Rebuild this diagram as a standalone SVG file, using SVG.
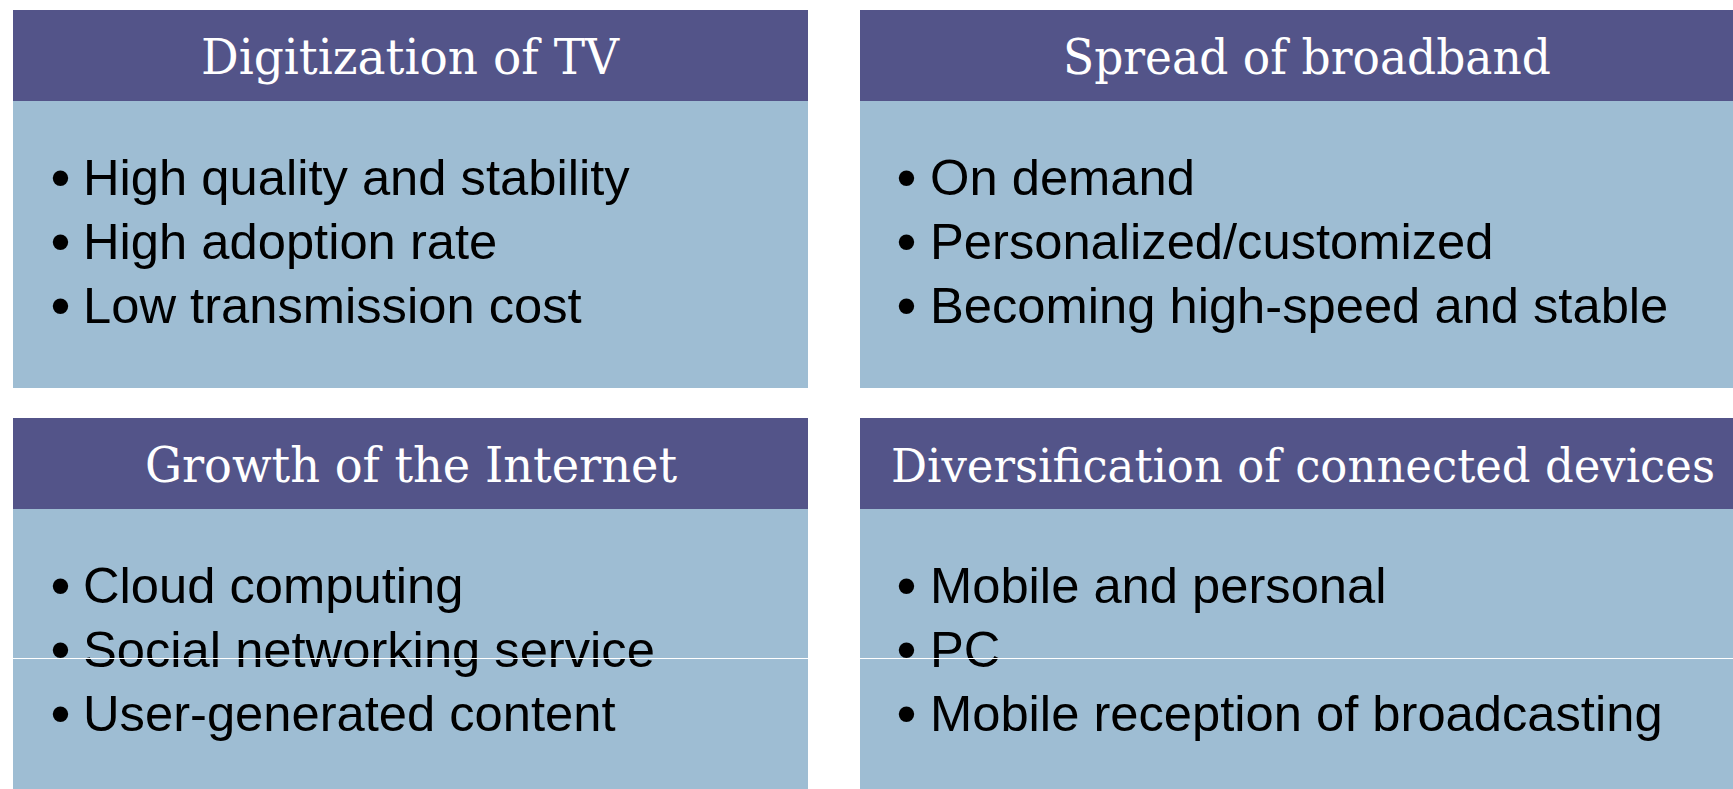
<svg xmlns="http://www.w3.org/2000/svg" width="1733" height="789" viewBox="0 0 1733 789">
<style>
.hdr{fill:#535489}
.body{fill:#9EBDD3}
.ht{font-family:"DejaVu Serif","Liberation Serif",serif;font-size:48px;fill:#ffffff;text-anchor:middle}
.bt{font-family:"Liberation Sans",Arial,sans-serif;font-size:50.7px;fill:#000000}
.bu{font-size:57px}
</style>
<rect width="1733" height="789" fill="#ffffff"/>
<g id="node-digitization">
<rect class="hdr" x="13" y="10" width="795" height="91"/>
<rect class="body" x="13" y="101" width="795" height="287"/>
<text class="ht" x="410" y="74" textLength="418" lengthAdjust="spacingAndGlyphs">Digitization of TV</text>
<text class="bt" x="50.5" y="195"><tspan class="bu" dy="2">•</tspan><tspan x="83" dy="-2">High quality and stability</tspan></text>
<text class="bt" x="50.5" y="259"><tspan class="bu" dy="2">•</tspan><tspan x="83" dy="-2">High adoption rate</tspan></text>
<text class="bt" x="50.5" y="323"><tspan class="bu" dy="2">•</tspan><tspan x="83" dy="-2">Low transmission cost</tspan></text>
</g>
<g id="node-broadband">
<rect class="hdr" x="860" y="10" width="873" height="91"/>
<rect class="body" x="860" y="101" width="873" height="287"/>
<text class="ht" x="1307" y="74" textLength="488" lengthAdjust="spacingAndGlyphs">Spread of broadband</text>
<text class="bt" x="896.5" y="195"><tspan class="bu" dy="2">•</tspan><tspan x="930" dy="-2">On demand</tspan></text>
<text class="bt" x="896.5" y="259"><tspan class="bu" dy="2">•</tspan><tspan x="930" dy="-2">Personalized/customized</tspan></text>
<text class="bt" x="896.5" y="323"><tspan class="bu" dy="2">•</tspan><tspan x="930" dy="-2">Becoming high-speed and stable</tspan></text>
</g>
<g id="node-internet">
<rect class="hdr" x="13" y="418" width="795" height="91"/>
<rect class="body" x="13" y="509" width="795" height="280"/>
<text class="ht" x="411" y="482" textLength="532" lengthAdjust="spacingAndGlyphs">Growth of the Internet</text>
<text class="bt" x="50.5" y="603"><tspan class="bu" dy="2">•</tspan><tspan x="83" dy="-2">Cloud computing</tspan></text>
<text class="bt" x="50.5" y="667"><tspan class="bu" dy="2">•</tspan><tspan x="83" dy="-2">Social networking service</tspan></text>
<text class="bt" x="50.5" y="731"><tspan class="bu" dy="2">•</tspan><tspan x="83" dy="-2">User-generated content</tspan></text>
</g>
<g id="node-devices">
<rect class="hdr" x="860" y="418" width="873" height="91"/>
<rect class="body" x="860" y="509" width="873" height="280"/>
<text class="ht" x="1303" y="482" style="font-size:46px" textLength="824" lengthAdjust="spacingAndGlyphs">Diversification of connected devices</text>
<text class="bt" x="896.5" y="603"><tspan class="bu" dy="2">•</tspan><tspan x="930" dy="-2">Mobile and personal</tspan></text>
<text class="bt" x="896.5" y="667"><tspan class="bu" dy="2">•</tspan><tspan x="930" dy="-2">PC</tspan></text>
<text class="bt" x="896.5" y="731"><tspan class="bu" dy="2">•</tspan><tspan x="930" dy="-2">Mobile reception of broadcasting</tspan></text>
</g>
<g id="connectors">
<line x1="13" y1="658.5" x2="1733" y2="658.5" stroke="#ffffff" stroke-width="1"/>
</g>
</svg>
